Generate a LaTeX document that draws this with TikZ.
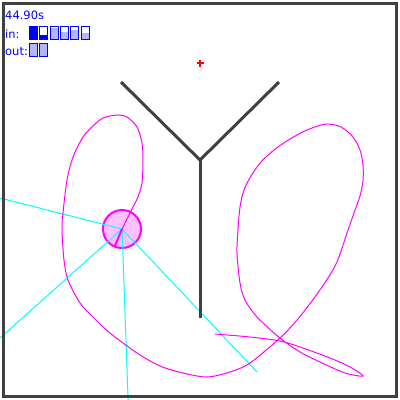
\documentclass[tikz,border=0pt]{standalone}
\usepackage{fontspec}
\setmainfont{DejaVu Sans}
\definecolor{wallgray}{RGB}{64,64,64}
\definecolor{trail}{RGB}{255,0,255}
\definecolor{bodypink}{RGB}{255,192,255}
\definecolor{meterlight}{RGB}{180,180,255}
\definecolor{raycyan}{RGB}{0,255,255}
\definecolor{hudblue}{RGB}{0,0,255}
\begin{document}
\begin{tikzpicture}[x=1pt, y=-1pt,
    wall/.style={draw=wallgray, line width=3pt},
    ray/.style={draw=raycyan, line width=1pt},
    meterbox/.style={draw=hudblue, line width=1pt},
    hud/.style={hudblue, font=\fontsize{11.5}{13}\selectfont, anchor=base west, inner sep=0pt}]
  \useasboundingbox (0,0) rectangle (400,400);
  \clip (0,0) rectangle (400,400);
  % Robot pose and sensor ray ends.
  \coordinate (bot) at (122,229);
  \coordinate (head) at (114.5,247);
  \coordinate (rayA) at (-10,195.5);
  \coordinate (rayB) at (-10,346.9);
  \coordinate (rayC) at (128.3,405);
  \coordinate (rayD) at (257,372);
  % Robot body.
  \fill[bodypink] (bot) circle (19);
  \draw[trail, line width=2pt] (bot) circle (19);
  % Sensor rays.
  \foreach \r in {rayA,rayB,rayC,rayD}
    \draw[ray] (bot) -- (\r);
  % Trail of the robot.
  \draw[trail, line width=1pt] plot[smooth, tension=0.5] coordinates {
    (215,334) (250,337) (280,341) (300,347) (330,358) (350,367) (363,376)
    (345,373) (320,362) (300,352) (280,338) (257,317) (245,300) (240,283)
    (237,253) (238,230) (240,207) (244,190) (251,176) (261,162) (274,150)
    (290,139) (307,130) (326,124) (341,127) (353,137) (360,150) (363,165)
    (363,181) (360,196) (354,213) (347,233) (337,262) (326,281) (312,301)
    (297,320) (280,338) (250,363) (230,372) (207,377) (183,373) (160,366)
    (137,353) (110,333) (93,317) (80,303) (68,280) (64,260) (62,230)
    (63,213) (67,180) (73,157) (83,137) (93,126) (103,118) (117,115)
    (127,117) (137,127) (142,143) (143,160) (142,183) (138,197) (133,207)
    (128,217) (bot)};
  % Heading.
  \draw[trail, line width=2pt] (bot) -- (head);
  % Y shaped wall.
  \coordinate (wl) at (121,82);
  \coordinate (wr) at (279,82);
  \coordinate (wj) at (200,160);
  \coordinate (wb) at (200,318);
  \draw[wall] (wl) -- (wj) -- (wr);
  \draw[wall] (wj) -- (wb);
  % Goal.
  \coordinate (goal) at (200,63);
  \draw[red, line width=2pt] ([xshift=-3.5pt]goal) -- ([xshift=3.5pt]goal)
    ([yshift=-3.5pt]goal) -- ([yshift=3.5pt]goal);
  % Arena frame.
  \draw[wall] (3.5,3.5) rectangle (396.5,396.5);
  % Time and network meters.
  \node[hud] (clock) at (5,19.5) {44.90s};
  \node[hud] (inlbl) at (5,38.5) {in:};
  \node[hud] (outlbl) at (5,55) {out:};
  \foreach \f/\c [count=\i from 0] in {1/hudblue,0.3/hudblue,0.85/meterlight,0.55/meterlight,0.67/meterlight,0.5/meterlight} {
    \fill[\c] ({29.5+10.3*\i},39) rectangle ({37.5+10.3*\i},{39-13*\f});
    \draw[meterbox] ({29.5+10.3*\i},26) rectangle ({37.5+10.3*\i},39);
  }
  \foreach \i in {0,1} {
    \fill[meterlight] ({29.5+10.3*\i},43) rectangle ({37.5+10.3*\i},56);
    \draw[meterbox] ({29.5+10.3*\i},43) rectangle ({37.5+10.3*\i},56);
  }
\end{tikzpicture}
\end{document}
